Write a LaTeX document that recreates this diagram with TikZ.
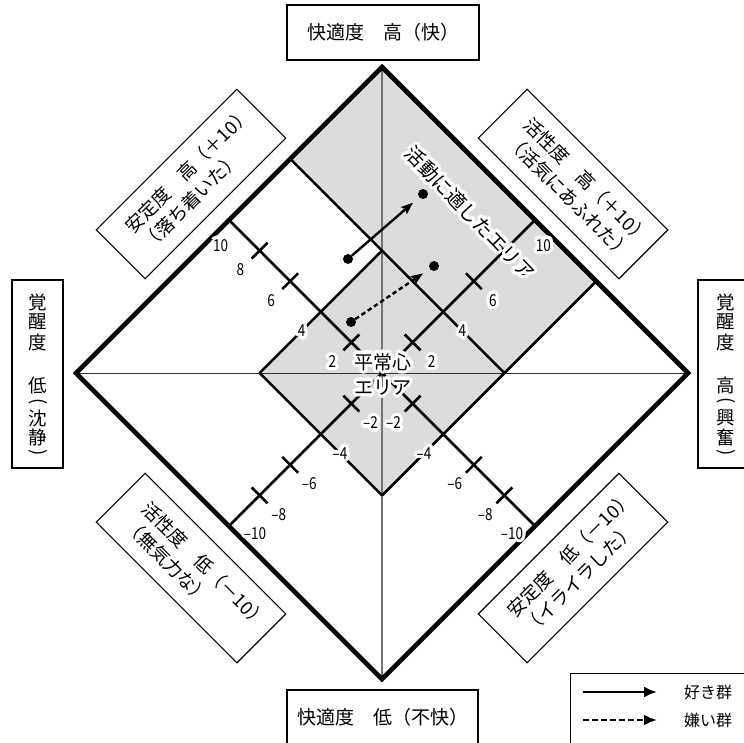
\documentclass[tikz,border=0pt]{standalone}
\usepackage{fontspec}
\setmainfont{Noto Sans CJK JP}
\newfontfamily\numfont[FakeStretch=0.82]{Noto Sans CJK JP}
\usetikzlibrary{arrows.meta,calc}
\definecolor{areagray}{RGB}{220,220,222}
\newcommand\hcopy[2]{\rlap{\color{white}\kern#1\raise#2\copy0}}
\newcommand\halo[1]{\leavevmode\setbox0\hbox{#1}%
 \foreach \r/\n in {1.1/4,2.2/8,3.3/16}{%
   \pgfmathsetmacro\st{360/\n}%
   \foreach \k in {1,...,\n}{%
     \pgfmathsetlengthmacro\hdx{\r*cos(\k*\st)}%
     \pgfmathsetlengthmacro\hdy{\r*sin(\k*\st)}%
     \hcopy{\hdx}{\hdy}}}%
 \box0}
\begin{document}
\begin{tikzpicture}[x=1pt,y=-1pt,line join=miter,
  axisline/.style={line width=2.6pt},
  bigline/.style={line width=4.6pt},
  labelbox/.style={draw,line width=1.2pt,inner sep=0pt},
  cornerbox/.style={draw,line width=1.1pt,minimum width=199pt,minimum height=69pt,inner sep=0pt},
  cornertext/.style={align=left,inner sep=0pt,anchor=west,font=\fontsize{18.5}{23.5}\selectfont},
  ticklab/.style={inner sep=0pt,font=\numfont\fontsize{16.5}{16.5}\selectfont},
  vchar/.style={inner sep=0pt,font=\fontsize{18.5}{18.5}\selectfont},
  dot/.style={circle,fill,inner sep=0pt,minimum size=10pt},
  arr/.style={line width=2.4pt,-{Stealth[length=12pt,width=9pt,inset=2pt]},shorten >=8pt},
  legarr/.style={line width=2.8pt,-{Latex[length=13pt,width=11pt]}}]
\useasboundingbox (0,0) rectangle (744,742);

% ---- diamond in rotated coordinates (a = activity, s = stability) ----
\begin{scope}[shift={(382pt,-373pt)},x={(15.3pt,15.3pt)},y={(-15.3pt,15.3pt)}]
  \fill[areagray] (-4,-4) -- (10,-4) -- (10,10) -- (4,10) -- (4,4) -- (-4,4) -- cycle;
  \draw[black!55,line width=1.2pt] (10,10) -- (-10,-10);
  \draw[black!80,line width=0.8pt] (-10,10) -- (10,-10);
  \draw[axisline] (-4,4) -- (4,4);
  \draw[axisline] (-4,-4) -- (-4,4);
  \draw[axisline] (-4,-4) -- (10,-4);
  \draw[axisline] (4,-4) -- (4,10);
  \draw[axisline] (-10,0) -- (10,0);
  \draw[axisline] (0,-10) -- (0,10);
  \foreach \t in {-8,-6,-2,2,6,8} {
    \draw[axisline] (\t,-0.52) -- (\t,0.52);
    \draw[axisline] (-0.52,\t) -- (0.52,\t);
  }
  \draw[bigline] (10,10) -- (10,-10) -- (-10,-10) -- (-10,10) -- cycle;
  \foreach \t/\l in {8/8,6/6,4/4,2/2,-2/–2,-4/–4,-6/–6,-8/–8} {
    \node[ticklab] (sl\t) at (-1.25,\t) {\halo{\l}};
    \node[ticklab] (al\t) at (\t,-1.25) {\halo{\l}};
  }
  \node[ticklab] (s10) at (-1.1,9.45) {\halo{10}};
  \node[ticklab] (a10) at (9.45,-1.1) {\halo{10}};
  \node[ticklab] (am10) at (-9.4,-1.1) {\halo{–10}};
  \node[ticklab] (sm10) at (-1,-9.5) {\halo{–10}};
\end{scope}

% ---- area labels ----
\node[inner sep=0pt,rotate=-46,font=\fontsize{19.5}{19.5}\selectfont] (act) at (470,213) {\halo{活動に適したエリア}};
\node[inner sep=0pt,align=center,font=\fontsize{19}{25}\selectfont] (calm) at (383,374) {\halo{平常心}\\\halo{エリア}};

% ---- arrows ----
\node[dot] (p1) at (348,259) {};
\node[dot] (p2) at (423,194) {};
\node[dot] (q1) at (351,322) {};
\node[dot] (q2) at (434,266) {};
\draw[arr] (p1) -- (p2);
\draw[arr,dash pattern=on 4.5pt off 3pt] (q1) -- (q2);

% ---- top / bottom boxes ----
\node[labelbox,minimum width=192pt,minimum height=55pt,font=\fontsize{19}{19}\selectfont] (top) at (383,32.5) {快適度　高（快）};
\node[labelbox,minimum width=191pt,minimum height=55pt,font=\fontsize{19}{19}\selectfont] (bot) at (382.5,717.5) {快適度　低（不快）};

% ---- side boxes ----
\node[labelbox,minimum width=51pt,minimum height=188pt] (lbox) at (37.5,374) {};
\node[labelbox,minimum width=56pt,minimum height=188pt] (rbox) at (726,374) {};
\foreach \c/\y [count=\i] in {覚/302,醒/322,度/342,低/385,沈/418,静/437} {
  \node[vchar] (lc\i) at (38,\y) {\c};
}
\node[vchar,rotate=-90] (lpo) at (38,402) {(};
\node[vchar,rotate=-90] (lpc) at (38,453) {)};
\foreach \c/\y [count=\i] in {覚/302,醒/322,度/342,高/385,興/418,奮/437} {
  \node[vchar] (rc\i) at (726,\y) {\c};
}
\node[vchar,rotate=-90] (rpo) at (726,401) {(};
\node[vchar,rotate=-90] (rpc) at (726,453) {)};

% ---- corner boxes ----
\node[cornerbox,rotate=45] (ul) at (191,184) {};
\node[cornertext,rotate=45] (ult) at ($(ul.center)!77pt!(ul.west)$) {安定度　高（＋10）\\（落ち着いた）};
\node[cornerbox,rotate=-45] (ur) at (573,184) {};
\node[cornertext,rotate=-45] (urt) at ($(ur.center)!77pt!(ur.west)$) {活性度　高（＋10）\\（活気にあふれた）};
\node[cornerbox,rotate=-45] (ll) at (191,568) {};
\node[cornertext,rotate=-45] (llt) at ($(ll.center)!77pt!(ll.west)$) {活性度　低（－10）\\（無気力な）};
\node[cornerbox,rotate=45] (lr) at (573,568) {};
\node[cornertext,rotate=45] (lrt) at ($(lr.center)!77pt!(lr.west)$) {安定度　低（－10）\\（イライラした）};

% ---- legend ----
\node[labelbox,minimum width=190pt,minimum height=90pt,anchor=north west] (leg) at (570,673) {};
\coordinate (l1a) at (583,692);
\coordinate (l1b) at (657,692);
\coordinate (l2a) at (583,720);
\coordinate (l2b) at (657,720);
\draw[legarr] (l1a) -- (l1b);
\draw[legarr,dash pattern=on 6pt off 3pt] (l2a) -- (l2b);
\node[inner sep=0pt,font=\fontsize{16}{16}\selectfont] (lt1) at (708,692) {好き群};
\node[inner sep=0pt,font=\fontsize{16}{16}\selectfont] (lt2) at (708,720) {嫌い群};
\end{tikzpicture}
\end{document}
